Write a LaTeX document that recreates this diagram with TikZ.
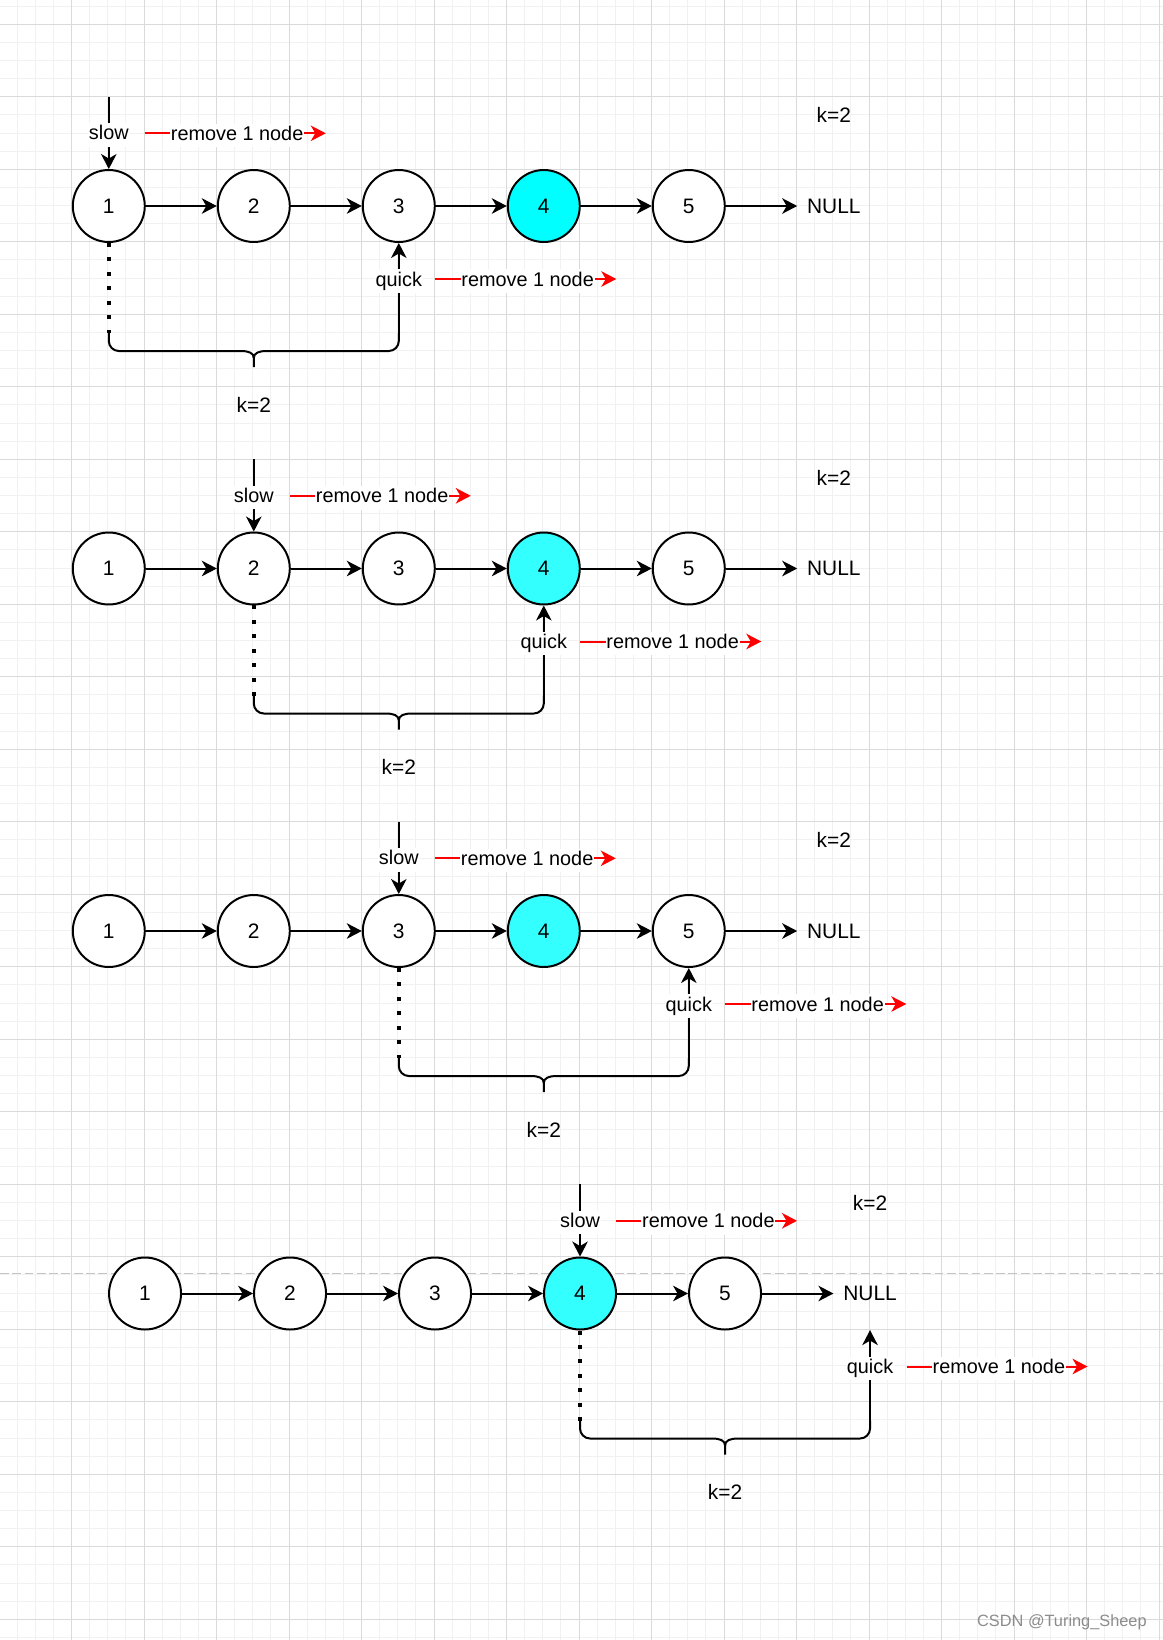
\documentclass[tikz,border=0pt]{standalone}
\usepackage{fontspec}
\setmainfont{Liberation Sans}
\usetikzlibrary{arrows.meta,calc}
\definecolor{gmaj}{HTML}{DADADA}
\definecolor{gmin}{HTML}{F1F1F1}
\definecolor{cyanA}{HTML}{00FFFF}
\definecolor{cyanB}{HTML}{33FFFF}
\definecolor{redA}{HTML}{FF0000}
\definecolor{dashgray}{HTML}{C4C4C4}
\definecolor{wmgray}{HTML}{8C8C8C}
\tikzset{
  vtext/.style={font=\fontsize{11.9pt}{14pt}\selectfont, text height=8.5pt, text depth=0pt, inner sep=0pt},
  circnode/.style={circle, draw, fill=white, line width=1.13pt, minimum size=1.44cm, vtext},
  nullnode/.style={minimum width=1.45cm, minimum height=1.45cm, vtext},
  elab/.style={font=\fontsize{11.3pt}{13.5pt}\selectfont, fill=white, text height=8.1pt, text depth=2.4pt, inner xsep=0.5pt, inner ysep=1.5pt, yshift=-1.2pt},
  tipA/.tip={Stealth[length=0.3cm, width=0.31cm, inset=0.09cm]},
  arr/.style={line width=1.13pt, -tipA},
  rarr/.style={line width=1.13pt, draw=redA, -{Stealth[length=0.3cm, width=0.31cm, inset=0.09cm, fill=redA]}},
  dotline/.style={line width=0.08cm, dash pattern=on 0.08cm off 0.21cm},
  bracepath/.style={line width=1.13pt},
}
\begin{document}
\begin{tikzpicture}[x=0.02cm,y=-0.02cm]
\useasboundingbox (0,0) rectangle (1163,1640);
\fill[white] (0,0) rectangle (1163,1640);
% grid
\foreach \k in {0,...,63} { \draw[gmin,line width=0.57pt] ({17.2+\k*18.125},0) -- ({17.2+\k*18.125},1640); }
\foreach \k in {0,...,90} { \draw[gmin,line width=0.57pt] (0,{6.2+\k*18.125}) -- (1163,{6.2+\k*18.125}); }
\foreach \k in {0,...,15} { \draw[gmaj,line width=0.57pt] ({71.7+\k*72.5},0) -- ({71.7+\k*72.5},1640); }
\foreach \k in {0,...,22} { \draw[gmaj,line width=0.57pt] (0,{24.3+\k*72.5}) -- (1163,{24.3+\k*72.5}); }
% dashed guide line
\draw[dashgray,line width=0.6pt,dash pattern=on 5pt off 2pt] (0,1273.3) -- (1163,1273.3);
% rows
\foreach \r/\dx/\s/\q/\cy in {0/0/1/3/cyanA, 1/0/2/4/cyanB, 2/0/3/5/cyanB, 3/36.25/4/6/cyanB}{
\begin{scope}[shift={(\dx,\r*362.5)}]
  \pgfmathsetmacro\xs{108.8+(\s-1)*145}
  \pgfmathsetmacro\xq{108.8+(\q-1)*145}
  \pgfmathsetmacro\xm{(\xs+\xq)/2}
  \node[circnode] (n\r-1) at (108.8,206) {1};
  \node[circnode] (n\r-2) at (253.8,206) {2};
  \node[circnode] (n\r-3) at (398.8,206) {3};
  \node[circnode,fill=\cy] (n\r-4) at (543.8,206) {4};
  \node[circnode] (n\r-5) at (688.8,206) {5};
  \node[nullnode] (n\r-6) at (833.8,206) {NULL};
  \foreach \i/\j in {1/2,2/3,3/4,4/5,5/6} { \draw[arr] (n\r-\i) -- (n\r-\j); }
  % slow pointer
  \coordinate (s\r) at (\xs,96.7);
  \draw[arr] (s\r) -- node[elab]{slow} (n\r-\s.north);
  \coordinate (sa\r) at (\xs+36,133.3);
  \coordinate (sb\r) at (\xs+217,133.3);
  \draw[rarr] (sa\r) -- node[elab,pos=0.51,text=black]{remove 1 node} (sb\r);
  % brace ends
  \coordinate (bl\r) at (\xs,333);
  \coordinate (br\r) at (\xq,333);
  % quick pointer
  \draw[arr] (br\r) -- node[elab,pos=0.6]{quick} (n\r-\q.south);
  \coordinate (qa\r) at (\xq+36.5,279);
  \coordinate (qb\r) at (\xq+217.5,279);
  \draw[rarr] (qa\r) -- node[elab,pos=0.51,text=black]{remove 1 node} (qb\r);
  % dotted distance
  \draw[dotline] (n\r-\s.south) -- (bl\r);
  % brace
  \draw[bracepath] (bl\r) -- (\xs,341) .. controls (\xs,346.5) and (\xs+4.5,351) .. (\xs+10,351) -- (\xm-13,351) .. controls (\xm-5,351) and (\xm,353) .. (\xm,358) -- (\xm,367);
  \draw[bracepath] (br\r) -- (\xq,341) .. controls (\xq,346.5) and (\xq-4.5,351) .. (\xq-10,351) -- (\xm+13,351) .. controls (\xm+5,351) and (\xm,353) .. (\xm,358);
  \node[vtext] (kb\r) at (\xm,405) {k=2};
  \node[vtext] (kt\r) at (833.8,115.5) {k=2};
\end{scope}
}
\node[font=\fontsize{9.3pt}{11pt}\selectfont, text=wmgray, text height=6.7pt, text depth=0pt, inner sep=0pt, anchor=east] (wm) at (1147,1621) {CSDN @Turing\_Sheep};
\end{tikzpicture}
\end{document}
